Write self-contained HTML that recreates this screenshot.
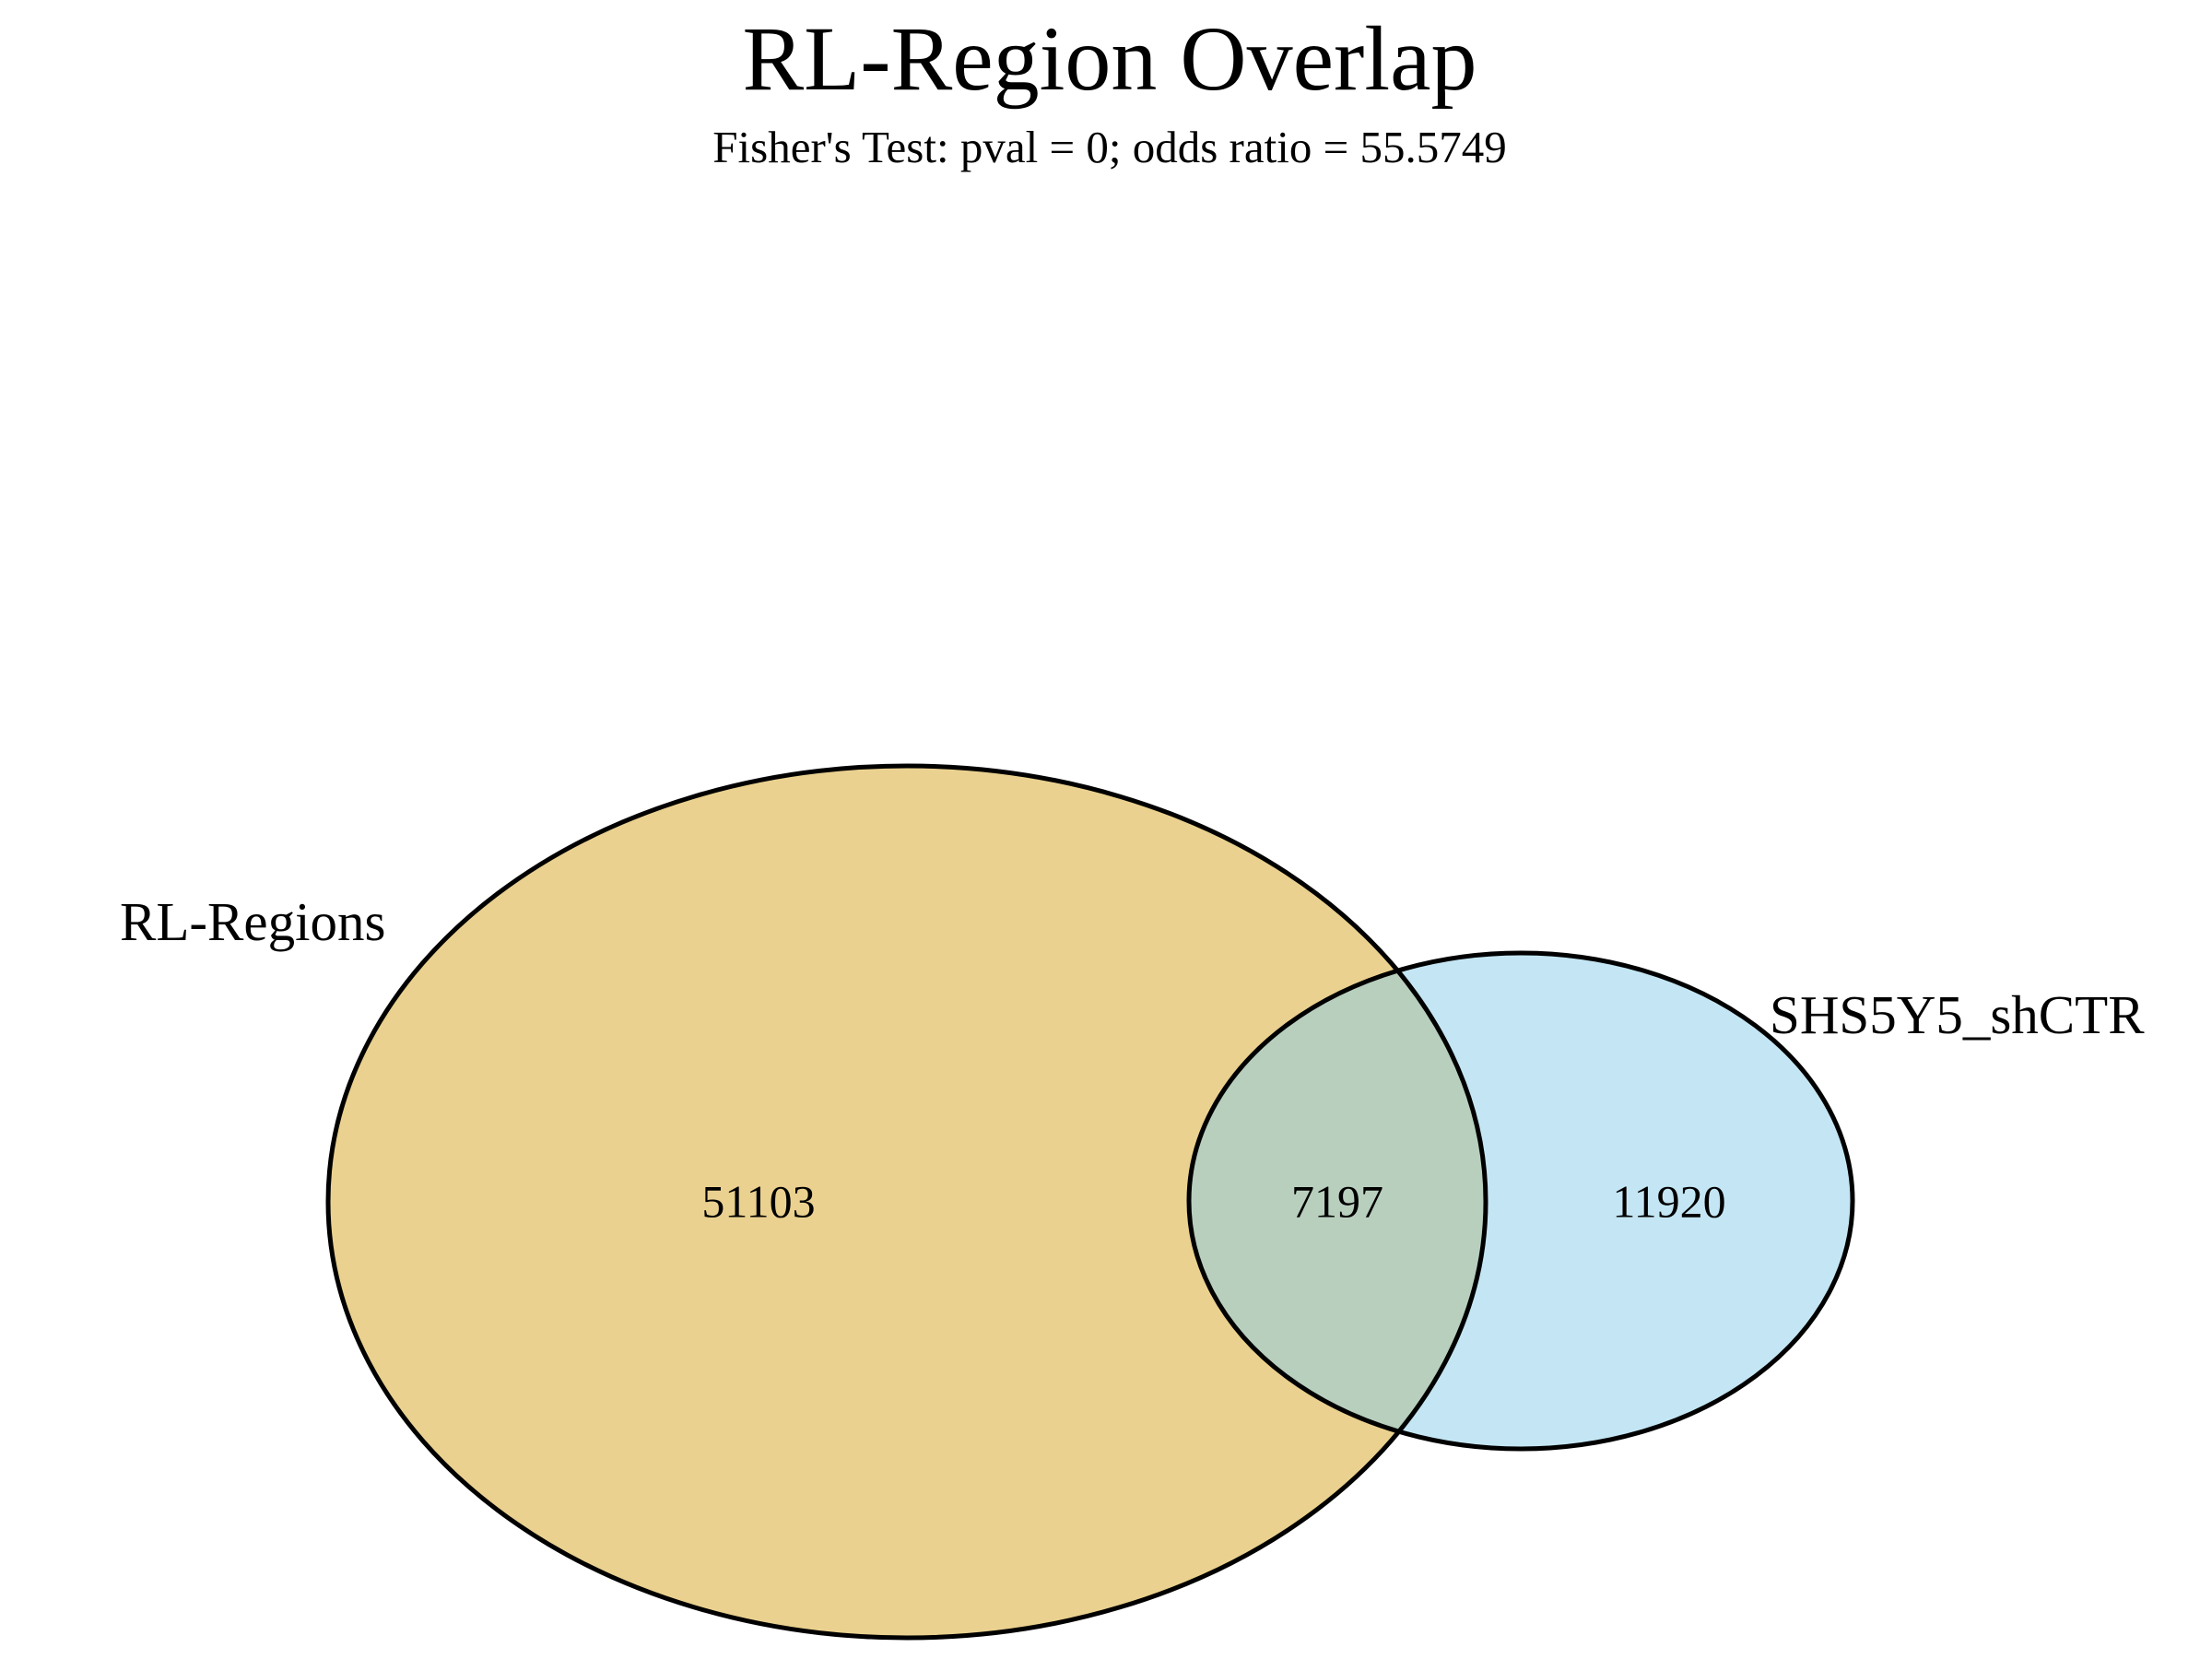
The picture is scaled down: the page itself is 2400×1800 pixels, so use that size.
<!DOCTYPE html>
<html><head><meta charset="utf-8"><style>
html,body{margin:0;padding:0;background:#fff;}
svg{display:block;font-family:"Liberation Serif",serif;}
</style></head><body>
<svg id="chart" width="2400" height="1800" viewBox="0 0 2400 1800" xmlns="http://www.w3.org/2000/svg">
<text x="1204" y="97" font-size="100" text-anchor="middle">RL-Region Overlap</text>
<text x="1204" y="176" font-size="49" text-anchor="middle">Fisher's Test: pval = 0; odds ratio = 55.5749</text>
<g id="venn"></g>
</svg>
<script>
const setNames = ["RL-Regions", "SHS5Y5_shCTR"];
const regionCounts = [51103, 7197, 11920];
const setCenters = [[984, 1304], [1650, 1303]];
const setRadii = [[628, 473], [360, 269]];
const setColors = ["#EAD18F", "#C4E6F4"];
const overlapColor = "#B8CFBE";
const NS = "http://www.w3.org/2000/svg";
const g = document.getElementById('venn');
function mk(tag, attrs){const e=document.createElementNS(NS,tag);for(const k in attrs)e.setAttribute(k,attrs[k]);return e;}
const defs = mk('defs',{});
const cp = mk('clipPath',{id:'clipA'});
cp.appendChild(mk('ellipse',{cx:setCenters[0][0],cy:setCenters[0][1],rx:setRadii[0][0],ry:setRadii[0][1]}));
defs.appendChild(cp); g.appendChild(defs);
for(let i=0;i<2;i++){
  const e=mk('ellipse',{cx:setCenters[i][0],cy:setCenters[i][1],rx:setRadii[i][0],ry:setRadii[i][1],fill:setColors[i]});
  
  
  g.appendChild(e);
}
const ov=mk('ellipse',{cx:setCenters[1][0],cy:setCenters[1][1],rx:setRadii[1][0],ry:setRadii[1][1],fill:overlapColor,'clip-path':'url(#clipA)'});


g.appendChild(ov);
for(let i=0;i<2;i++){
  const e=mk('ellipse',{cx:setCenters[i][0],cy:setCenters[i][1],rx:setRadii[i][0],ry:setRadii[i][1],fill:'none',stroke:'#000','stroke-width':5});
  
  
  g.appendChild(e);
}
const aLeft = setCenters[0][0]-setRadii[0][0], aRight = setCenters[0][0]+setRadii[0][0];
const bLeft = setCenters[1][0]-setRadii[1][0], bRight = setCenters[1][0]+setRadii[1][0];
const labelX = [(aLeft+bLeft)/2, (bLeft+aRight)/2, (aRight+bRight)/2];
const cy = (setCenters[0][1]+setCenters[1][1])/2 + 17;
const regionNames=['count-only-a','count-overlap','count-only-b'];
for(let i=0;i<3;i++){
  const t=mk('text',{x:labelX[i],y:cy,'font-size':50,'text-anchor':'middle'});
  t.textContent=regionCounts[i];
  
  
  g.appendChild(t);
}
const t1=mk('text',{x:130,y:1020,'font-size':59});
t1.textContent=setNames[0];


g.appendChild(t1);
const t2=mk('text',{x:1920,y:1121,'font-size':59});
t2.textContent=setNames[1];


g.appendChild(t2);
</script>
</body></html>
